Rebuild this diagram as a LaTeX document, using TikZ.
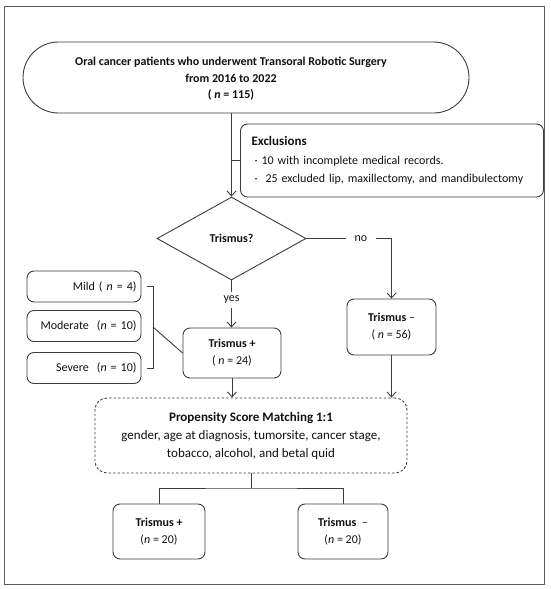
\documentclass[tikz,border=0pt]{standalone}
\usepackage{fontspec}
\setmainfont{Carlito}
\usetikzlibrary{arrows.meta,shapes.geometric}
\definecolor{linec}{HTML}{3C3C3C}
\definecolor{framec}{HTML}{5A5A5A}
\definecolor{textc}{HTML}{111111}
\begin{document}
\begin{tikzpicture}[x=1pt,y=-1pt,
  line width=0.9pt,
  txt/.style={font=\fontsize{12}{17}\selectfont, text=textc},
  box/.style={draw=linec, rounded corners=7pt, align=center, inner sep=0pt, txt},
  lin/.style={draw=linec},
  arr/.style={draw=linec, -{Straight Barb[length=5pt,width=9pt]}},
  lab/.style={txt, inner sep=0pt}
]
\useasboundingbox (0,0) rectangle (550,589);
\draw[framec, line width=1pt] (4,6) rectangle (544,584);

% top stadium
\node[draw=linec, rounded corners=35.5pt, minimum width=446pt, minimum height=71pt, inner sep=0pt] (top) at (246,77.5) {};
\node[txt, align=center, inner sep=0pt, font=\fontsize{12}{16.5}\selectfont\bfseries] (toptext) at (231,79)
  {Oral cancer patients who underwent Transoral Robotic Surgery\\from 2016 to 2022\\( {\itshape n} = 115)};

% exclusions
\node[box, align=left, minimum width=292pt, minimum height=73pt, text width=281pt, inner xsep=11pt, font=\fontsize{12}{18.5}\selectfont] (excl) at (392,160.5)
  {{\fontsize{13}{18.5}\selectfont\bfseries Exclusions}\\
   \hspace*{3pt}\textperiodcentered\ 10 with incomplete medical records.\\
   \hspace*{3pt}\textperiodcentered\ \ 25 excluded lip, maxillectomy, and mandibulectomy};

% decision
\node[diamond, draw=linec, minimum width=149pt, minimum height=83pt, inner sep=0pt, txt, font=\fontsize{12}{14}\selectfont\bfseries] (dia) at (231.5,238.5) {Trismus?};

% trismus minus
\node[box, minimum width=89pt, minimum height=56pt] (tm) at (391.5,327)
  {\textbf{Trismus} –\\( \textit{n} = 56)};
% trismus plus
\node[box, minimum width=98pt, minimum height=50pt] (tp) at (232,353)
  {\textbf{Trismus +}\\( \textit{n} = 24)};

% severity
\node[box, minimum width=114pt, minimum height=31pt, text width=105pt, align=right] (mild) at (84,286.5) {Mild ( \textit{n} = 4)};
\node[box, minimum width=114pt, minimum height=31pt, text width=105pt, align=right] (mod) at (84,326) {Moderate \ (\textit{n} = 10)};
\node[box, minimum width=114pt, minimum height=31pt, text width=105pt, align=right] (sev) at (84,368) {Severe \ (\textit{n} = 10)};

% PSM
\node[box, dashed, dash pattern=on 2.5pt off 2pt, rounded corners=12pt, minimum width=312pt, minimum height=75pt, font=\fontsize{13}{18}\selectfont] (psm) at (251,435.5)
  {\textbf{Propensity Score Matching 1:1}\\gender, age at diagnosis, tumorsite, cancer stage,\\tobacco, alcohol, and betal quid};

% bottom
\node[box, minimum width=92pt, minimum height=55pt] (b1) at (159,531.5) {\textbf{Trismus +}\\(\textit{n} = 20)};
\node[box, minimum width=90pt, minimum height=55pt] (b2) at (343,531.5) {\textbf{Trismus} \ –\\(\textit{n} = 20)};

% labels
\node[lab, minimum width=30pt] (no) at (361,238.5) {no};
\node[lab, minimum height=16pt] (yes) at (231.5,300) {yes};

% connectors
\draw[arr] (top.south -| dia.north) -- (dia.north);
\draw[lin] (excl.west -| dia.north) -- (excl.west);
\draw[lin] (dia.east) -- (no.west);
\draw[arr] (no.east) -- (no.east -| tm.north) -- (tm.north);
\draw[lin] (dia.south) -- (yes.north);
\draw[arr] (yes.south) -- (yes.south |- tp.north);
\coordinate (bt) at (147,286.5);
\coordinate (bb) at (147,368);
\coordinate (bm) at (153,327);
\draw[lin] (bt) -- ++(6,0) -- ([xshift=6pt]bb) -- (bb);
\draw[lin] (bm) -- (tp.west);
\draw[arr] (tp.south) -- (tp.south |- psm.north);
\draw[arr] (tm.south) -- (tm.south |- psm.north);
\coordinate (split) at (251,488);
\draw[lin] (psm.south) -- (split);
\draw[lin] (b1.north) |- (split) -| (b2.north);
\end{tikzpicture}
\end{document}
